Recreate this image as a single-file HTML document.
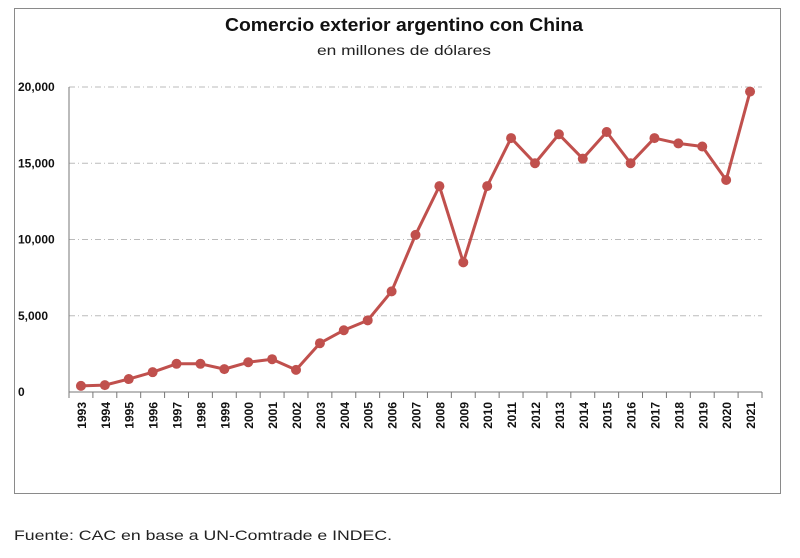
<!DOCTYPE html>
<html><head><meta charset="utf-8"><style>
body{margin:0;background:#fff;width:800px;height:558px;overflow:hidden;font-family:"Liberation Sans",sans-serif}
</style></head><body>
<svg width="800" height="558" style="position:absolute;left:0;top:0">
<rect x="14.5" y="8.5" width="766" height="485" fill="#fff" stroke="#8a8a8a"/>
<text x="225" y="31" textLength="358" lengthAdjust="spacingAndGlyphs" font-size="18" font-weight="bold" fill="#111">Comercio exterior argentino con China</text>
<text x="317" y="55" textLength="174" lengthAdjust="spacingAndGlyphs" font-size="14" fill="#222">en millones de dólares</text>
<g id="grid"></g><g id="axes"></g><g id="series"></g>
<text x="14" y="540" textLength="378" lengthAdjust="spacingAndGlyphs" font-size="14" fill="#222">Fuente: CAC en base a UN-Comtrade e INDEC.</text>
</svg>
<script>
const years=[1993,1994,1995,1996,1997,1998,1999,2000,2001,2002,2003,2004,2005,2006,2007,2008,2009,2010,2011,2012,2013,2014,2015,2016,2017,2018,2019,2020,2021];
const values=[400,450,850,1300,1850,1850,1500,1950,2150,1450,3200,4050,4700,6600,10300,13500,8500,13500,16650,15000,16900,15300,17050,15000,16650,16300,16100,13900,19700];
const yTicks=[0,5000,10000,15000,20000];
const yLabels=["0","5,000","10,000","15,000","20,000"];
const NS="http://www.w3.org/2000/svg";
const x0=69,x1=762,y0=392,y1=87;
const step=(x1-x0)/years.length;
const X=i=>x0+step*(i+0.5);
const Y=v=>y0-(v/20000)*(y0-y1);
function mk(t,a,p){const e=document.createElementNS(NS,t);for(const k in a)e.setAttribute(k,a[k]);p.appendChild(e);return e;}
const g=document.getElementById('grid'),ax=document.getElementById('axes'),s=document.getElementById('series');
yTicks.forEach((v,i)=>{
 if(v>0){const l=mk('line',{x1:x0,x2:x1,y1:Y(v),y2:Y(v),stroke:'#bbb','stroke-dasharray':'6,3,1,3'},g);
 
 }
 const t=mk('text',{x:18,y:Y(v)+4,'font-size':12,'font-weight':'bold',fill:'#111'},ax);
 t.textContent=yLabels[i];
 
 
});
const ya=mk('line',{x1:x0,x2:x0,y1:y1,y2:y0,stroke:'#777'},ax);


const xa=mk('line',{x1:x0,x2:x1,y1:y0,y2:y0,stroke:'#777'},ax);


for(let i=0;i<=years.length;i++){mk('line',{x1:x0+step*i,x2:x0+step*i,y1:y0,y2:y0+6,stroke:'#777'},ax);}
years.forEach((yr,i)=>{
 const t=mk('text',{transform:`translate(${X(i)+5},${y0+10}) rotate(-90)`,'text-anchor':'end','font-size':12,'font-weight':'bold',fill:'#111'},ax);
 t.textContent=yr;
 
 
});
const pl=mk('polyline',{points:values.map((v,i)=>X(i)+','+Y(v)).join(' '),fill:'none',stroke:'#c0504d','stroke-width':3,'stroke-linejoin':'round'},s);


values.forEach((v,i)=>{
 const c=mk('circle',{cx:X(i),cy:Y(v),r:5,fill:'#c0504d'},s);
 
 
});
</script>
</body></html>
